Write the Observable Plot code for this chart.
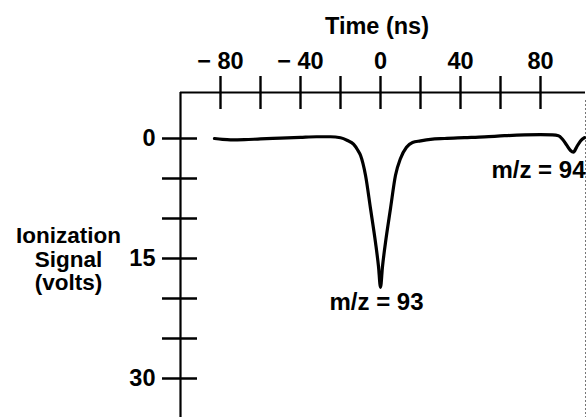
<!DOCTYPE html>
<html><head><meta charset="utf-8">
<script src="https://cdn.jsdelivr.net/npm/d3@7"></script>
<script src="https://cdn.jsdelivr.net/npm/@observablehq/plot@0.6"></script>
<style>
html,body{margin:0;padding:0;background:#fff;}
#chart svg{display:block;}
</style></head><body><div id="chart"></div>
<script>
// Ion signal trace (time in ns, signal in volts; positive = downward deflection)
const times = [-83,-79,-75,-68,-60,-50,-40,-32,-25,-20,-16.5,-13.5,-11.5,-10,-7.5,-5,-2.5,-1,0,1,2.5,5,7.5,10,13,16,20,25,32,42,52,62,72,80,86,89,91,93,95,96.5,98,100,102];
const volts = [0,0.12,0.18,0.15,0.05,-0.05,-0.15,-0.22,-0.22,-0.1,0.25,0.7,1.4,2.1,4.6,8.75,13,16,18.6,16,13,8.75,4.6,2.5,1.1,0.5,0.3,0.1,0,-0.1,-0.2,-0.35,-0.45,-0.48,-0.45,-0.35,0.1,0.8,1.5,1.7,1.1,0.3,-0.1];

const xTicks = [-80,-60,-40,-20,0,20,40,60,80];
const xTickLabels = [-80,-40,0,40,80];
const yTicks = [0,5,10,15,20,25,30];
const yTickLabels = [0,15,30];

const peakNames = ["m/z = 93","m/z = 94"];
const peakTimes = [0,96.5];
const peakVolts = [18.6,1.7];

const xTitle = "Time (ns)";
const yTitle = "Ionization\nSignal\n(volts)";

const xDomain = [-100, 102.5];
const yDomain = [-5.75, 34.875];

const data = times.map((t, i) => ({t, v: volts[i]}));
const peaks = peakNames.map((name, i) => ({name, t: peakTimes[i], v: peakVolts[i]}));
const font = "'Liberation Sans', Arial, Helvetica, sans-serif";
const fmtX = d => d < 0 ? "\u2212 " + Math.abs(d) : String(d);

const plot = Plot.plot({
  width: 586, height: 417,
  marginLeft: 180, marginRight: 1, marginTop: 92, marginBottom: 0,
  style: {fontFamily: font, fontWeight: "bold", fontSize: "23px", color: "#000", background: "#fff", overflow: "visible"},
  x: {domain: xDomain},
  y: {domain: yDomain, reverse: true},
  marks: [
    // frame
    Plot.ruleX([xDomain[0]], {stroke: "#000", strokeWidth: 2.2}),
    Plot.ruleY([yDomain[0]], {stroke: "#000", strokeWidth: 2.2}),
    Plot.ruleX([xDomain[1]], {stroke: "#777", strokeWidth: 1, strokeDasharray: "2,2", y1: yDomain[0] + 1, y2: yDomain[1]}),
    // x ticks crossing the top line
    Plot.axisX({anchor: "top", ticks: xTicks, tickSize: 33, dy: 16, tickFormat: () => "", strokeWidth: 2.4, label: null}),
    Plot.axisX({anchor: "top", ticks: xTickLabels, tickSize: 0, tickPadding: 24, tickFormat: fmtX, fontSize: 23.5, label: null}),
    // y ticks crossing the left line
    Plot.axisY({anchor: "left", ticks: yTicks, tickSize: 35, dx: 17, tickFormat: () => "", strokeWidth: 2.6, label: null}),
    Plot.axisY({anchor: "left", ticks: yTickLabels, tickSize: 0, tickPadding: 25, fontSize: 23.5, label: null}),
    // titles
    Plot.text([xTitle], {frameAnchor: "top", text: d => d, lineAnchor: "bottom", dy: -59, dx: -6, fontSize: 23.5, fontWeight: "bold"}),
    Plot.text([yTitle], {frameAnchor: "left", text: d => d, textAnchor: "middle", lineAnchor: "middle", dx: -112, dy: 4, fontSize: 22.5, lineHeight: 1.05, fontWeight: "bold"}),
    // trace
    Plot.line(data, {x: "t", y: "v", curve: "monotone-x", stroke: "#000", strokeWidth: 3.2}),
    // peak labels
    Plot.text(peaks.filter((d, i) => i === 0), {x: "t", y: "v", text: "name", textAnchor: "middle", lineAnchor: "bottom", dx: -4, dy: 23, fontSize: 24, fontWeight: "bold"}),
    Plot.text(peaks.filter((d, i) => i === 1), {x: "t", y: "v", text: "name", textAnchor: "end", lineAnchor: "bottom", dx: 12, dy: 26, fontSize: 24, fontWeight: "bold"})
  ]
});
document.getElementById("chart").appendChild(plot);
</script>
</body></html>
